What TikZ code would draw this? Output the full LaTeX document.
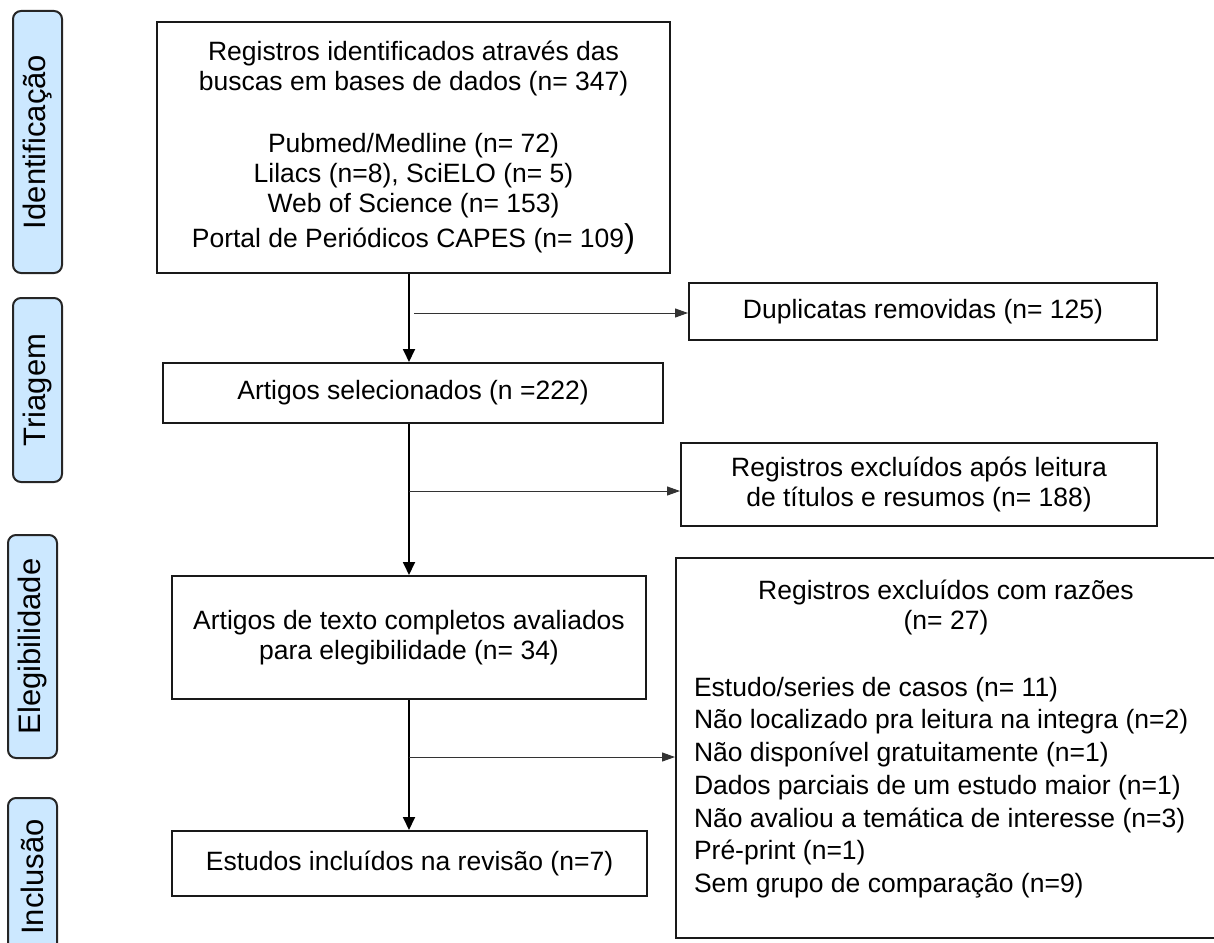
\documentclass[tikz,border=0pt]{standalone}
\usepackage{fontspec}
\setmainfont{Liberation Sans}
\usetikzlibrary{arrows.meta}
\definecolor{sideblue}{RGB}{204,232,255}

\begin{document}
\begin{tikzpicture}[x=1pt, y=-1pt, font=\fontsize{26.5pt}{30pt}\selectfont,
  main box/.style={draw=black!90, line width=2pt, inner sep=0pt},
  side box/.style={draw=black!85, fill=sideblue, line width=2pt, rounded corners=8pt, rotate=90, minimum height=49pt, inner sep=0pt, font=\fontsize{31pt}{31pt}\selectfont},
  vline/.style={line width=1.8pt, -{Triangle[length=13pt,width=12pt]}},
  hline/.style={line width=1pt, black!80, -{Triangle[length=13pt,width=9pt]}}]
\useasboundingbox (0,0) rectangle (1214,942);
\clip (0,0) rectangle (1214,942);
% fases
\node[side box, minimum width=262pt] (s1) at (37.5,142) {Identificação};
\node[side box, minimum width=184pt] (s2) at (37.5,390) {Triagem};
\node[side box, minimum width=223pt] (s3) at (32.5,646.5) {Elegibilidade};
\node[side box, minimum width=158pt] (s4) at (32.5,877) {Inclusão};
% caixas
\node[main box, align=center, minimum width=513pt, minimum height=251pt] (reg) at (413.5,147.5) {Registros identificados através das\\buscas em bases de dados (n= 347)\\[32pt]Pubmed/Medline (n= 72)\\Lilacs (n=8), SciELO (n= 5)\\Web of Science (n= 153)\\[5pt]Portal de Periódicos CAPES (n= 109{\fontsize{33pt}{30pt}\selectfont )}};
\node[main box, minimum width=468pt, minimum height=57pt] (dup) at (923,311.5) {Duplicatas removidas (n= 125)};
\node[main box, minimum width=500pt, minimum height=60pt] (sel) at (413,393) {Artigos selecionados (n =222)};
\node[main box, align=center, minimum width=476pt, minimum height=83pt] (exc) at (919,484.5) {Registros excluídos após leitura\\de títulos e resumos (n= 188)};
\node[main box, align=center, minimum width=474pt, minimum height=123pt] (full) at (409,637.5) {Artigos de texto completos avaliados\\para elegibilidade (n= 34)};
\node[main box, minimum width=540pt, minimum height=380pt] (why) at (946,748) {\parbox{504pt}{%
  {\centering Registros excluídos com razões\\(n= 27)\par}%
  \vspace{34pt}%
  {\fontsize{26.5pt}{32.7pt}\selectfont\raggedright
  Estudo/series de casos (n= 11)\\
  Não localizado pra leitura na integra (n=2)\\
  Não disponível gratuitamente (n=1)\\
  Dados parciais de um estudo maior (n=1)\\
  Não avaliou a temática de interesse (n=3)\\
  Pré-print (n=1)\\
  Sem grupo de comparação (n=9)\par}\kern18pt}};
\node[main box, minimum width=475pt, minimum height=65pt] (incl) at (409.5,863.5) {Estudos incluídos na revisão (n=7)};
% setas
\coordinate (j1) at (414,313);
\coordinate (j2) at (409,491);
\coordinate (j3) at (409,757);
\draw[vline] (reg.south -| full.north) -- (sel.north -| full.north);
\draw[vline] (sel.south -| full.north) -- (full.north);
\draw[vline] (full.south) -- (incl.north -| full.south);
\draw[hline] (j1) -- (j1 -| dup.west);
\draw[hline] (j2) -- (j2 -| exc.west);
\draw[hline] (j3) -- (j3 -| why.west);
\end{tikzpicture}
\end{document}
